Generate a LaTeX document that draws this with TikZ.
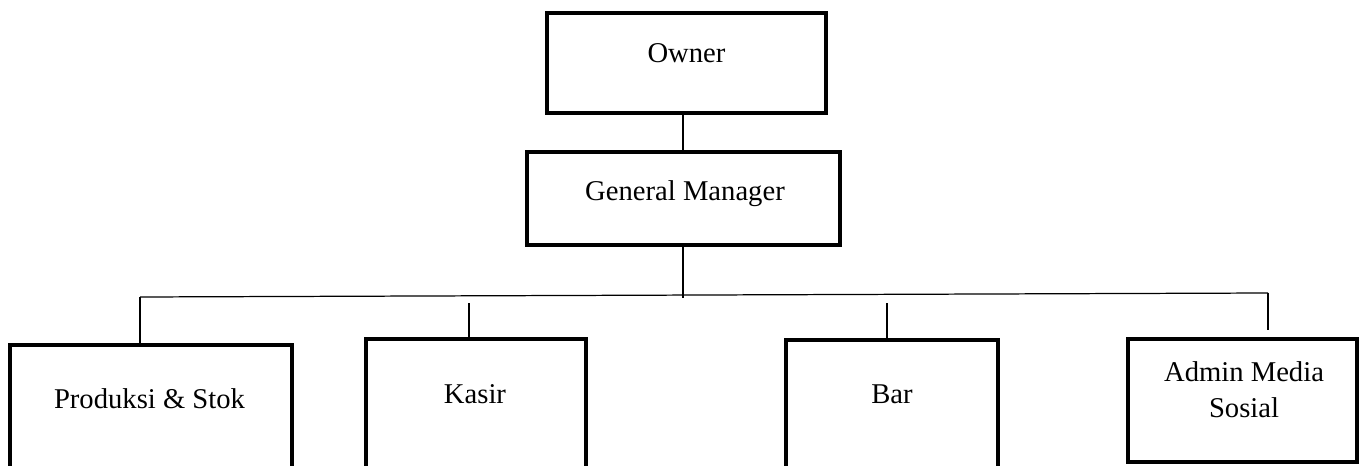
\documentclass[tikz,border=0pt]{standalone}
\usepackage{fontspec}
\setmainfont{Liberation Serif}
\begin{document}
\begin{tikzpicture}[x=0.02cm,y=-0.02cm,
  box/.style={draw=black,line width=2pt,rectangle,inner sep=0pt},
  lbl/.style={inner sep=0pt,font=\fontsize{16.3}{20.4}\selectfont,align=center},
  conn/.style={draw=black,line width=0.7pt}]
\useasboundingbox (0,0) rectangle (1365,466);
\clip (0,0) rectangle (1365,466);
% boxes
\node[box,minimum width=5.58cm,minimum height=2.0cm] (owner) at (686.5,63) {};
\node[box,minimum width=6.26cm,minimum height=1.86cm] (gm) at (683.5,198.5) {};
\node[box,minimum width=5.64cm,minimum height=3.5cm] (prod) at (151,432.5) {};
\node[box,minimum width=4.4cm,minimum height=3.62cm] (kasir) at (476,429.5) {};
\node[box,minimum width=4.24cm,minimum height=3.6cm] (bar) at (892,430) {};
\node[box,minimum width=4.58cm,minimum height=2.46cm] (admin) at (1242.5,400.5) {};
% labels
\node[lbl,anchor=base] (owner-t) at (686.5,63) {Owner};
\node[lbl,anchor=base] (gm-t) at (685,200) {General Manager};
\node[lbl,anchor=base] (prod-t) at (149.5,408) {Produksi \& Stok};
\node[lbl,anchor=base] (kasir-t) at (475,403) {Kasir};
\node[lbl,anchor=base] (bar-t) at (892,403) {Bar};
\node[lbl,anchor=center] (admin-t) at (1244,390) {Admin Media\\Sosial};
% connectors
\coordinate (bl) at (140,297);
\coordinate (br) at (1268,293);
\coordinate (gmb) at (683,298);
\coordinate (kt) at (469,303);
\coordinate (bt) at (887,303);
\coordinate (ab) at (1268,330);
\draw[conn] (gm.north -| gmb) -- (owner.south -| gmb);
\draw[conn] (gm.south -| gmb) -- (gmb);
\draw[conn] (bl) -- (br);
\draw[conn] (bl) -- (bl |- prod.north);
\draw[conn] (kt) -- (kt |- kasir.north);
\draw[conn] (bt) -- (bt |- bar.north);
\draw[conn] (br) -- (ab);
\end{tikzpicture}
\end{document}
